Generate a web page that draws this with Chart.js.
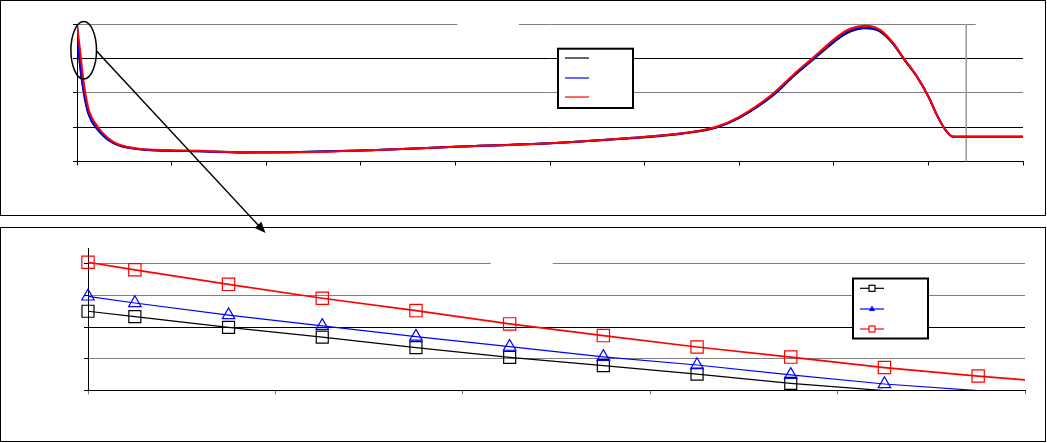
<!DOCTYPE html>
<html lang="en">
<head>
<meta charset="UTF-8">
<title>Profile comparison</title>
<script src="https://cdn.jsdelivr.net/npm/chart.js@4"></script>
<style>
    body { margin: 0; background: #fff; width: 1047px; height: 443px; overflow: hidden; position: relative; }
    .frame { position: absolute; left: 0; width: 1046px; border: 1px solid #000; box-sizing: border-box; }
    canvas { position: absolute; left: 0; }
    #overlay { position: absolute; left: 0; top: 0; }
</style>
</head>
<body>
<div class="frame" style="top:0;height:216px"></div>
<div class="frame" style="top:227px;height:215px"></div>
<canvas id="topChart" width="1047" height="220" style="top:0"></canvas>
<canvas id="zoomChart" width="1047" height="221" style="top:222px"></canvas>
<!-- zoom marker: ellipse round the start of the profile, arrow to the lower chart -->
<svg id="overlay" width="1047" height="443">
    <ellipse cx="83.7" cy="50.3" rx="12.8" ry="28.7" fill="none" stroke="#000" stroke-width="1.5"/>
    <line x1="96.5" y1="51" x2="259" y2="226" stroke="#000" stroke-width="1.5"/>
    <polygon points="265.5,233 254.7,228 261.3,221.8" fill="#000"/>
</svg>
<script>
// full profile (upper chart)
const topX     = [0, 0.3, 0.7, 1.2, 2.2, 3.8, 6.3, 9.8, 13, 17.5, 22.5, 31, 40, 50, 57.7, 64, 67.6, 70, 73.6, 75.7, 77.8, 80.7, 81.8, 83.3, 84.9, 86.3, 87.4, 88.8, 90, 90.9, 91.8, 92.6, 100];
const topBlack = [3.97, 2.85, 2.03, 1.39, 0.92, 0.54, 0.36, 0.31, 0.30, 0.26, 0.27, 0.33, 0.43, 0.53, 0.66, 0.81, 0.99, 1.27, 1.93, 2.47, 2.96, 3.62, 3.79, 3.88, 3.78, 3.41, 2.98, 2.46, 1.89, 1.35, 0.92, 0.72, 0.72];
const topBlue  = [3.97, 2.90, 2.08, 1.42, 0.94, 0.55, 0.37, 0.32, 0.30, 0.26, 0.27, 0.33, 0.43, 0.53, 0.67, 0.82, 1.00, 1.28, 1.95, 2.49, 2.98, 3.65, 3.82, 3.90, 3.80, 3.42, 2.99, 2.47, 1.89, 1.35, 0.92, 0.72, 0.72];
const topRed   = [3.97, 3.29, 2.32, 1.55, 1.01, 0.58, 0.38, 0.33, 0.31, 0.27, 0.27, 0.33, 0.43, 0.53, 0.67, 0.82, 1.01, 1.30, 1.98, 2.52, 3.02, 3.70, 3.87, 3.95, 3.83, 3.44, 3.00, 2.47, 1.89, 1.35, 0.92, 0.72, 0.72];

// enlarged start (lower chart), last point has no marker
const zoomX     = [0, 2.5, 7.5, 12.5, 17.5, 22.5, 27.5, 32.5, 37.5, 42.5, 47.5, 50];
const zoomBlack = [2.50, 2.33, 1.99, 1.68, 1.35, 1.04, 0.78, 0.51, 0.22, -0.01, -0.20, -0.30];
const zoomBlue  = [2.97, 2.76, 2.38, 2.04, 1.70, 1.38, 1.06, 0.80, 0.49, 0.20, -0.01, -0.10];
const zoomRed   = [4.05, 3.81, 3.35, 2.91, 2.52, 2.10, 1.73, 1.37, 1.05, 0.72, 0.45, 0.33];

const BLACK = '#000000', BLUE = '#0000ff', RED = '#ff0000', GRAY = '#808080';

function pts(xs, ys) {
    return xs.map((x, i) => ({ x: x, y: ys[i] }));
}

// white patches over gridlines + legend box, drawn like the original sheet
function sheetPlugin(cfg) {
    return {
        id: 'sheet',
        beforeDatasetsDraw(chart) {
            const ctx = chart.ctx, xs = chart.scales.x, ys = chart.scales.y;
            ctx.save();
            ctx.fillStyle = '#fff';
            cfg.gaps.forEach(g => {
                const a = xs.getPixelForValue(g[0]), b = xs.getPixelForValue(g[1]);
                const y = ys.getPixelForValue(g[2]);
                ctx.fillRect(a, y - 2, b - a, 4);
            });
            if (cfg.vline) {
                const x = xs.getPixelForValue(cfg.vline);
                ctx.strokeStyle = '#999';
                ctx.lineWidth = 1.5;
                ctx.beginPath();
                ctx.moveTo(x, chart.chartArea.top);
                ctx.lineTo(x, chart.chartArea.bottom);
                ctx.stroke();
            }
            ctx.restore();
        },
        afterDraw(chart) {
            const ctx = chart.ctx, L = cfg.legend;
            ctx.save();
            ctx.fillStyle = '#fff';
            ctx.fillRect(L.x, L.y, L.w, L.h);
            ctx.strokeStyle = '#000';
            ctx.lineWidth = 2;
            ctx.strokeRect(L.x, L.y, L.w, L.h);
            L.rows.forEach(r => {
                ctx.strokeStyle = r.color;
                ctx.lineWidth = 1.2;
                ctx.beginPath();
                ctx.moveTo(L.x + 7, r.y);
                ctx.lineTo(L.x + 31, r.y);
                ctx.stroke();
                const cx = L.x + 19;
                if (r.marker === 'rect') {
                    ctx.fillStyle = '#fff';
                    ctx.fillRect(cx - 3, r.y - 3, 6, 6);
                    ctx.strokeRect(cx - 3, r.y - 3, 6, 6);
                } else if (r.marker === 'triangle') {
                    ctx.fillStyle = r.color;
                    ctx.beginPath();
                    ctx.moveTo(cx, r.y - 3.5);
                    ctx.lineTo(cx + 3, r.y + 2);
                    ctx.lineTo(cx - 3, r.y + 2);
                    ctx.closePath();
                    ctx.fill();
                }
            });
            ctx.restore();
        }
    };
}

function baseScales(xMax, yMax, gridColors, xTickColor) {
    return {
        x: {
            type: 'linear', min: 0, max: xMax,
            ticks: { display: false, stepSize: xMax / (xMax === 100 ? 10 : 5) },
            grid: { drawOnChartArea: false, drawTicks: true, tickLength: 4, color: xTickColor, tickColor: xTickColor },
            border: { color: BLACK, width: 1 },
            afterFit: s => { s.height = 8; }
        },
        y: {
            type: 'linear', min: 0, max: yMax,
            ticks: { display: false, stepSize: 1 },
            grid: {
                drawTicks: true, tickLength: 4, lineWidth: 1,
                color: c => gridColors[c.tick.value] || 'rgba(0,0,0,0)',
                tickColor: c => gridColors[c.tick.value] ? BLACK : 'rgba(0,0,0,0)'
            },
            border: { color: BLACK, width: 1 },
            afterFit: s => { s.width = 8; }
        }
    };
}

new Chart(document.getElementById('topChart'), {
    type: 'scatter',
    data: {
        datasets: [
            { data: pts(topX, topRed), borderColor: RED, borderWidth: 2, order: 0 },
            { data: pts(topX, topBlue), borderColor: BLUE, borderWidth: 2, order: 1 },
            { data: pts(topX, topBlack), borderColor: BLACK, borderWidth: 2, order: 2 }
        ].map(d => Object.assign(d, { showLine: true, pointRadius: 0, fill: false, cubicInterpolationMode: 'monotone' }))
    },
    options: {
        responsive: false, animation: false, devicePixelRatio: 1,
        layout: { padding: { left: 69, right: 24, top: 24, bottom: 50.5 } },
        plugins: { legend: { display: false }, tooltip: { enabled: false } },
        scales: baseScales(100, 4, { 0: BLACK, 1: BLACK, 2: GRAY, 3: BLACK, 4: GRAY }, BLACK)
    },
    plugins: [sheetPlugin({
        gaps: [[40.2, 46.7, 4], [95.0, 100.5, 4]],
        vline: 94.0,
        legend: { x: 558, y: 48.7, w: 75, h: 59.3, rows: [
            { color: BLACK, y: 58 }, { color: BLUE, y: 78 }, { color: RED, y: 97 }
        ] }
    })]
});

const markerRadius = (r) => (c) => (c.dataIndex === zoomX.length - 1 || c.raw.y < 0) ? 0 : r;

new Chart(document.getElementById('zoomChart'), {
    type: 'scatter',
    data: {
        datasets: [
            { data: pts(zoomX, zoomRed), borderColor: RED, borderWidth: 1.7, pointStyle: 'rect', pointRadius: markerRadius(8.7), order: 0 },
            { data: pts(zoomX, zoomBlue), borderColor: BLUE, borderWidth: 1.2, pointStyle: 'triangle', pointRadius: markerRadius(7.2), order: 1 },
            { data: pts(zoomX, zoomBlack), borderColor: BLACK, borderWidth: 1.2, pointStyle: 'rect', pointRadius: markerRadius(8.5), order: 2 }
        ].map(d => Object.assign(d, {
            showLine: true, fill: false, tension: 0,
            clip: { left: 12, top: 12, right: 0, bottom: 0 },
            backgroundColor: 'rgba(0,0,0,0)', pointBackgroundColor: 'rgba(0,0,0,0)',
            pointBorderColor: d.borderColor, pointBorderWidth: 1.2
        }))
    },
    options: {
        responsive: false, animation: false, devicePixelRatio: 1,
        layout: { padding: { left: 80, right: 22, top: 26, bottom: 44.7 } },
        plugins: { legend: { display: false }, tooltip: { enabled: false } },
        scales: baseScales(50, 4.5, { 0: BLACK, 1: GRAY, 2: BLACK, 3: GRAY, 4: GRAY }, '#777')
    },
    plugins: [sheetPlugin({
        gaps: [[21.5, 24.8, 4]],
        legend: { x: 853, y: 56.5, w: 75, h: 60, rows: [
            { color: BLACK, y: 66.3, marker: 'rect' }, { color: BLUE, y: 87, marker: 'triangle' }, { color: RED, y: 107, marker: 'rect' }
        ] }
    })]
});
</script>
</body>
</html>
